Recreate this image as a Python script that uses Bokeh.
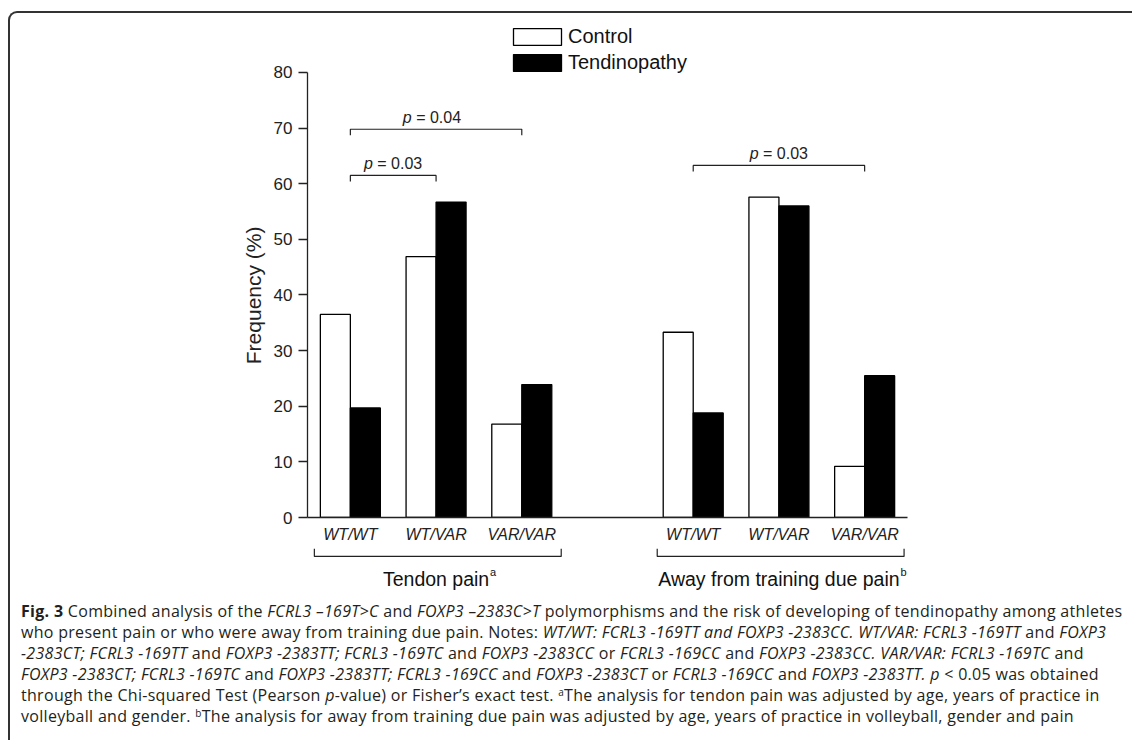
import math
from bokeh.plotting import figure
from bokeh.models import (Range1d, FixedTicker, Legend, LegendItem, Label, Div)
from bokeh.layouts import column, row
from bokeh.core.properties import value
from bokeh.embed import file_html
from bokeh.resources import INLINE

# ---------------- data ----------------
genotypes = ["WT/WT", "WT/VAR", "VAR/VAR"]
groups = ["Tendon pain", "Away from training due pain"]
group_sup = ["a", "b"]
series = ["Control", "Tendinopathy"]
control_tendon = [36.5, 46.9, 16.8]
tendino_tendon = [19.7, 56.7, 23.9]
control_away = [33.3, 57.6, 9.2]
tendino_away = [18.8, 56.0, 25.5]
y_ticks = [0, 10, 20, 30, 40, 50, 60, 70, 80]
y_title = "Frequency (%)"
# (group index, from genotype, to genotype, bracket level, p-value text)
comparisons = [(0, 0, 1, 61.5, "0.03"), (0, 0, 2, 69.8, "0.04"), (1, 0, 2, 63.3, "0.03")]

FONT = "Liberation Sans"
INK = "#222"
group_offset = [0, 4]
bw = 0.35
xr = Range1d(-0.5, 6.5)
y_top = 89.348          # frame top (room for the legend); axis drawn 0..80

def blank(fig):
    fig.outline_line_color = None
    fig.grid.visible = False
    fig.background_fill_color = "white"
    fig.border_fill_color = "white"

# ---------------- y-axis title strip ----------------
YW = 260
py = figure(width=YW, height=527, output_backend="svg", toolbar_location=None,
            x_range=Range1d(0, YW), y_range=Range1d(y_top - 527 / 5.5625, y_top),
            x_axis_location=None, y_axis_location=None,
            min_border_left=0, min_border_right=0, min_border_top=0, min_border_bottom=0)
blank(py)
py.text(x=[243], y=[(y_ticks[0] + y_ticks[-1]) / 2], text=[y_title], angle=math.pi / 2,
        y_offset=16, text_align="center", text_baseline="middle", text_font=value(FONT),
        text_font_size="21px", text_color=INK)

# ---------------- main plot ----------------
p = figure(width=1122 - YW, height=527, output_backend="svg", toolbar_location=None,
           x_range=xr, y_range=Range1d(0, y_top),
           min_border_left=297 - YW, min_border_right=225, min_border_top=0, min_border_bottom=30)
blank(p)

cx, ctop, tx, ttop = [], [], [], []
for g, (cv, tv) in enumerate([(control_tendon, tendino_tendon), (control_away, tendino_away)]):
    for i in range(3):
        pos = group_offset[g] + i
        cx.append(pos - bw / 2); ctop.append(cv[i])
        tx.append(pos + bw / 2); ttop.append(tv[i])

r_ctrl = p.vbar(x=cx, top=ctop, width=bw, fill_color="white", line_color="black", line_width=1.3)
r_tend = p.vbar(x=tx, top=ttop, width=bw, fill_color="black", line_color="black", line_width=1.3)

yax = p.yaxis[0]
yax.ticker = FixedTicker(ticks=y_ticks)
yax.bounds = (y_ticks[0], y_ticks[-1])
yax.major_tick_out = 9
yax.major_tick_in = 0
yax.minor_tick_out = 0
yax.minor_tick_in = 0
yax.major_label_text_font = FONT
yax.major_label_text_font_size = "17px"
yax.major_label_text_color = INK
yax.major_label_standoff = 6
yax.axis_line_width = 1.3
yax.axis_line_color = INK
yax.major_tick_line_color = INK
yax.major_tick_line_width = 1.3

xax = p.xaxis[0]
tick_pos = [group_offset[g] + i for g in range(2) for i in range(3)]
xax.ticker = FixedTicker(ticks=tick_pos)
xax.major_label_overrides = {pos: genotypes[k % 3] for k, pos in enumerate(tick_pos)}
xax.major_tick_out = 0
xax.major_tick_in = 0
xax.minor_tick_out = 0
xax.minor_tick_in = 0
xax.major_label_text_font = FONT
xax.major_label_text_font_size = "16px"
xax.major_label_text_font_style = "italic"
xax.major_label_text_color = INK
xax.major_label_standoff = 8
xax.axis_line_width = 1.3
xax.axis_line_color = INK

legend = Legend(items=[LegendItem(label=series[0], renderers=[r_ctrl]),
                       LegendItem(label=series[1], renderers=[r_tend])],
                location=(200, 443), padding=0, margin=0, spacing=3,
                glyph_width=60, glyph_height=21, label_standoff=1,
                border_line_color=None, background_fill_alpha=0,
                label_text_font=FONT, label_text_font_size="20px", label_text_color="#111")
p.add_layout(legend)

# significance brackets
xs, ys = [], []
tick_len = 1.1
text_shift = [0, -4, 0]
for k, (g, a, b, lvl, ptxt) in enumerate(comparisons):
    x0 = group_offset[g] + a
    x1 = group_offset[g] + b
    xs.append([x0, x0, x1, x1])
    ys.append([lvl - tick_len, lvl, lvl, lvl - tick_len])
    c = (x0 + x1) / 2
    half = 29.2 - text_shift[k]
    p.add_layout(Label(x=c, y=lvl + 0.6, x_offset=-half, text="p", text_align="left",
                       text_baseline="bottom", text_font=FONT, text_font_size="16px",
                       text_font_style="italic", text_color=INK))
    p.add_layout(Label(x=c, y=lvl + 0.6, x_offset=-half + 13.3, text="= " + ptxt, text_align="left",
                       text_baseline="bottom", text_font=FONT, text_font_size="16px",
                       text_color=INK))
p.multi_line(xs=xs, ys=ys, line_color=INK, line_width=1.2)

# ---------------- group brackets strip ----------------
pb = figure(width=1122, height=43, output_backend="svg", toolbar_location=None,
            x_range=xr, y_range=Range1d(-13.124, -5.393),
            x_axis_location=None, y_axis_location=None,
            min_border_left=297, min_border_right=225, min_border_top=0, min_border_bottom=0)
blank(pb)

br_y = -7.0
br_tick = -5.6
gxs, gys = [], []
for g in range(2):
    x0 = group_offset[g] - 0.42
    x1 = group_offset[g] + 2.46
    gxs.append([x0, x0, x1, x1])
    gys.append([br_tick, br_y, br_y, br_tick])
pb.multi_line(xs=gxs, ys=gys, line_color=INK, line_width=1.2)

gc = [group_offset[g] + 1 for g in range(2)]
pb.text(x=gc, y=[-11.0, -11.0], text=groups, text_align="center", text_baseline="middle",
        text_font=value(FONT), text_font_size="19.5px", text_color="#111")
sup_half = [54.0, 121.5]
for g in range(2):
    pb.text(x=[gc[g]], y=[-11.0], text=[group_sup[g]], x_offset=sup_half[g], y_offset=-7,
            text_align="left", text_baseline="middle",
            text_font=value(FONT), text_font_size="11px", text_color="#111")

# ---------------- frame and caption ----------------
top_border = Div(width=1132, height=20, margin=0, text=(
    '<div style="padding:11px 0 0 8px;">'
    '<div style="box-sizing:border-box;width:1124px;height:9px;border-top:2px solid #333;'
    'border-left:2px solid #333;border-top-left-radius:9px;"></div></div>'))
left_border = Div(width=10, height=570, margin=0, text=(
    '<div style="padding-left:8px;"><div style="width:0;height:570px;border-left:2px solid #333;"></div></div>'))

sup_style = 'style="font-size:10px;vertical-align:5px;line-height:0"'
cap_lines = [
    '<b>Fig. 3</b> Combined analysis of the <i>FCRL3 &#8211;169T&gt;C</i> and <i>FOXP3 &#8211;2383C&gt;T</i> polymorphisms and the risk of developing of tendinopathy among athletes',
    'who present pain or who were away from training due pain. Notes: <i>WT/WT: FCRL3 -169TT and FOXP3 -2383CC. WT/VAR: FCRL3 -169TT</i> and <i>FOXP3</i>',
    '<i>-2383CT; FCRL3 -169TT</i> and <i>FOXP3 -2383TT; FCRL3 -169TC</i> and <i>FOXP3 -2383CC</i> or <i>FCRL3 -169CC</i> and <i>FOXP3 -2383CC. VAR/VAR: FCRL3 -169TC</i> and',
    '<i>FOXP3 -2383CT; FCRL3 -169TC</i> and <i>FOXP3 -2383TT; FCRL3 -169CC</i> and <i>FOXP3 -2383CT</i> or <i>FCRL3 -169CC</i> and <i>FOXP3 -2383TT. p</i> &lt; 0.05 was obtained',
    'through the Chi-squared Test (Pearson <i>p</i>-value) or Fisher&#8217;s exact test. <sup ' + sup_style + '>a</sup>The analysis for tendon pain was adjusted by age, years of practice in',
    'volleyball and gender. <sup ' + sup_style + '>b</sup>The analysis for away from training due pain was adjusted by age, years of practice in volleyball, gender and pain',
]
cap_html = ('<div style="box-sizing:border-box;height:150px;width:1124px;margin:0 0 0 8px;'
            'border-left:2px solid #333;padding:11px 0 0 11px;font-family:\'Open Sans\';'
            'font-size:16px;letter-spacing:0.3px;line-height:21px;color:#231f20;white-space:nowrap;overflow:hidden;">'
            + '<br>'.join(cap_lines) + '</div>')
cap = Div(text=cap_html, width=1132, height=150, margin=0)

chart = column(row(py, p, spacing=0), pb, spacing=0)
layout = column(top_border, row(left_border, chart, spacing=0), cap, spacing=0)
open("out.html", "w").write(file_html(layout, INLINE))
